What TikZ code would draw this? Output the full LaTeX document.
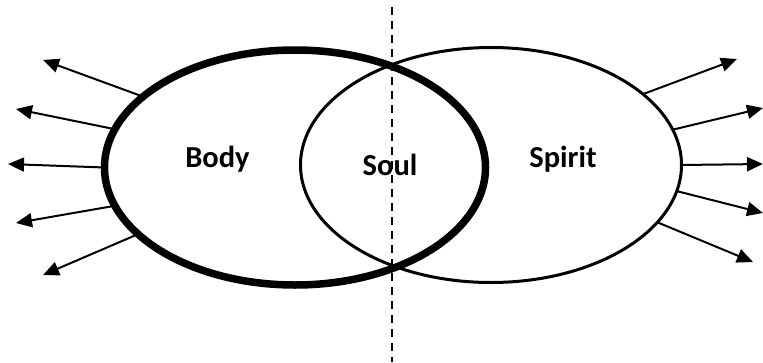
\documentclass[tikz,border=0pt]{standalone}
\usepackage{fontspec}
\setmainfont{Carlito}
\usetikzlibrary{shapes.geometric,arrows.meta}
\tikzset{
  oval/.style={draw=black, ellipse, inner sep=0pt, outer sep=0pt, minimum width=381pt, minimum height=235pt},
  thickoval/.style={oval, line width=7.5pt},
  thinoval/.style={oval, line width=3pt},
  ray/.style={line width=2pt, -{Triangle[length=16pt,width=14pt]}},
  lbl/.style={font=\fontsize{30.5}{30.5}\selectfont\bfseries, inner sep=0pt},
  divider/.style={line width=1.5pt, dash pattern=on 8pt off 6pt}
}
\begin{document}
\begin{tikzpicture}[x=1pt,y=-1pt]
\useasboundingbox (0,0) rectangle (763,362);
\node[thinoval] (R) at (491,165) {};
\node[thickoval] (L) at (295,167.5) {};
\coordinate (dtop) at (392,7);
\coordinate (dbot) at (392,362);
\draw[divider] (dtop) -- (dbot);
\node[lbl, anchor=base] (body) at (217.5,167) {Body};
\node[lbl, anchor=base] (soul) at (390,175) {Soul};
\node[lbl, anchor=base] (spirit) at (563,167) {Spirit};
% left arrow tips
\coordinate (l1) at (43,60);
\coordinate (l2) at (16,109);
\coordinate (l3) at (8,164);
\coordinate (l4) at (16,223);
\coordinate (l5) at (43,275);
% right arrow tips
\coordinate (r1) at (737,59);
\coordinate (r2) at (763,108);
\coordinate (r3) at (763,164);
\coordinate (r4) at (763,213);
\coordinate (r5) at (753,262);
\draw[ray] (L.155) -- (l1);
\draw[ray] (L.168) -- (l2);
\draw[ray] (L.180) -- (l3);
\draw[ray] (L.192) -- (l4);
\draw[ray] (L.203) -- (l5);
\draw[ray] (R.25) -- (r1);
\draw[ray] (R.11) -- (r2);
\draw[ray] (R.0) -- (r3);
\draw[ray] (R.-8.5) -- (r4);
\draw[ray] (R.-19) -- (r5);
\end{tikzpicture}
\end{document}
